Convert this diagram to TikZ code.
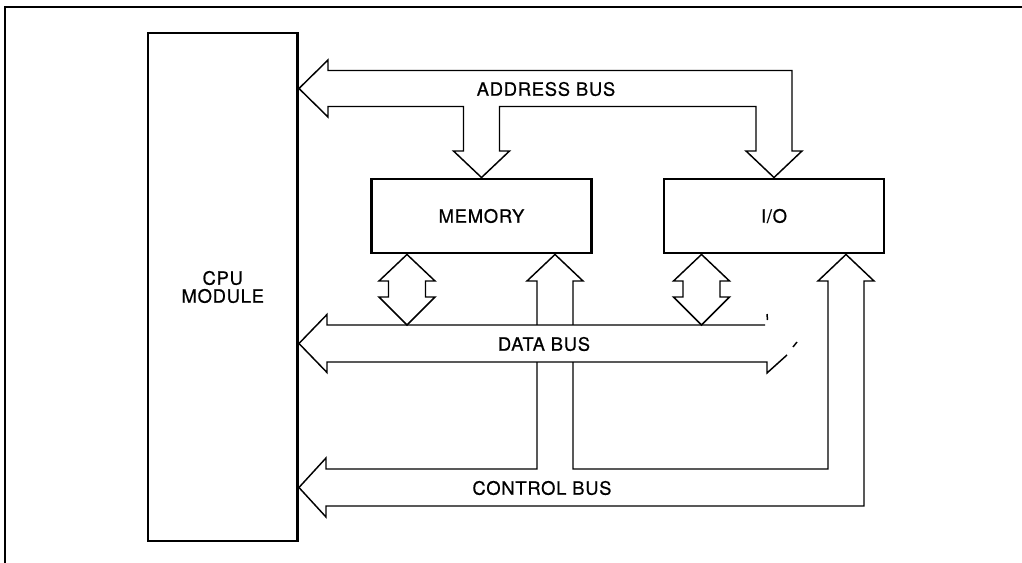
\documentclass[tikz,border=0pt]{standalone}
\usepackage{fontspec}
\setmainfont[LetterSpace=4,FakeBold=0.6]{TeX Gyre Heros}
\begin{document}
\begin{tikzpicture}[x=0.75pt,y=-0.75pt,
  box/.style={draw,line width=2.2pt,inner sep=0pt,align=center,font=\fontsize{13.8pt}{15pt}\selectfont},
  bus/.style={draw,line width=1.1pt,line join=miter},
  lbl/.style={font=\fontsize{13.8pt}{15pt}\selectfont,inner sep=0pt}]
\useasboundingbox (0,0) rectangle (1022,563);
% frame (top and left edges)
\draw[line width=1.5pt] (5,563) -- (5,7) -- (1022,7);
% modules
\node[box,minimum width=112.1pt,minimum height=381pt] (cpu) at (222.75,287) {CPU\\[-1.5pt]MODULE};
\node[box,minimum width=165pt,minimum height=55.5pt] (mem) at (481.5,216) {MEMORY};
\node[box,minimum width=165pt,minimum height=55.5pt] (io) at (774,216) {I/O};
% bus tips
\coordinate (atip) at (cpu.east |- 0,88.5);
\coordinate (dtip) at (cpu.east |- 0,343.5);
\coordinate (ctip) at (cpu.east |- 0,487.5);
% address bus
\draw[bus] (atip) -- (328,60) -- (328,70.5) -- (792,70.5) -- (792,151) -- (802,151)
  -- (io.north) -- (746,151) -- (756,151) -- (756,106.5) -- (499.5,106.5) -- (499.5,151)
  -- (509.5,151) -- (mem.north) -- (453.5,151) -- (463.5,151) -- (463.5,106.5)
  -- (328,106.5) -- (328,117) -- cycle;
% data bus
\draw[bus] (765,325) -- (327,325) -- (327,314.5) -- (dtip) -- (327,372.5) -- (327,362)
  -- (767,362) -- (767,373) -- (787,355);
\draw[bus] (767,314) -- (767.5,320);
\draw[bus] (793,347) -- (797,342);
% memory <-> data bus
\draw[bus] (mem.south -| 407,0) -- (435,281) -- (425.5,281) -- (425.5,297) -- (435,297)
  -- (407,325) -- (379,297) -- (388.5,297) -- (388.5,281) -- (379,281) -- cycle;
% I/O <-> data bus
\draw[bus] (io.south -| 701.5,0) -- (729.5,281) -- (720,281) -- (720,297) -- (729.5,297)
  -- (701.5,325) -- (673.5,297) -- (683,297) -- (683,281) -- (673.5,281) -- cycle;
% control bus
\draw[bus] (537,325) -- (537,281) -- (527,281) -- (mem.south -| 555,0) -- (583,281)
  -- (573,281) -- (573,325);
\draw[bus] (573,362) -- (573,469) -- (828,469) -- (828,281) -- (818,281)
  -- (io.south -| 846,0) -- (874,281) -- (864,281) -- (864,506) -- (326,506)
  -- (326,517) -- (ctip) -- (326,458) -- (326,469) -- (537,469) -- (537,362);
% labels
\node[lbl] (la) at (546,89) {ADDRESS BUS};
\node[lbl] (ld) at (544,344) {DATA BUS};
\node[lbl] (lc) at (542,488) {CONTROL BUS};
\end{tikzpicture}
\end{document}
